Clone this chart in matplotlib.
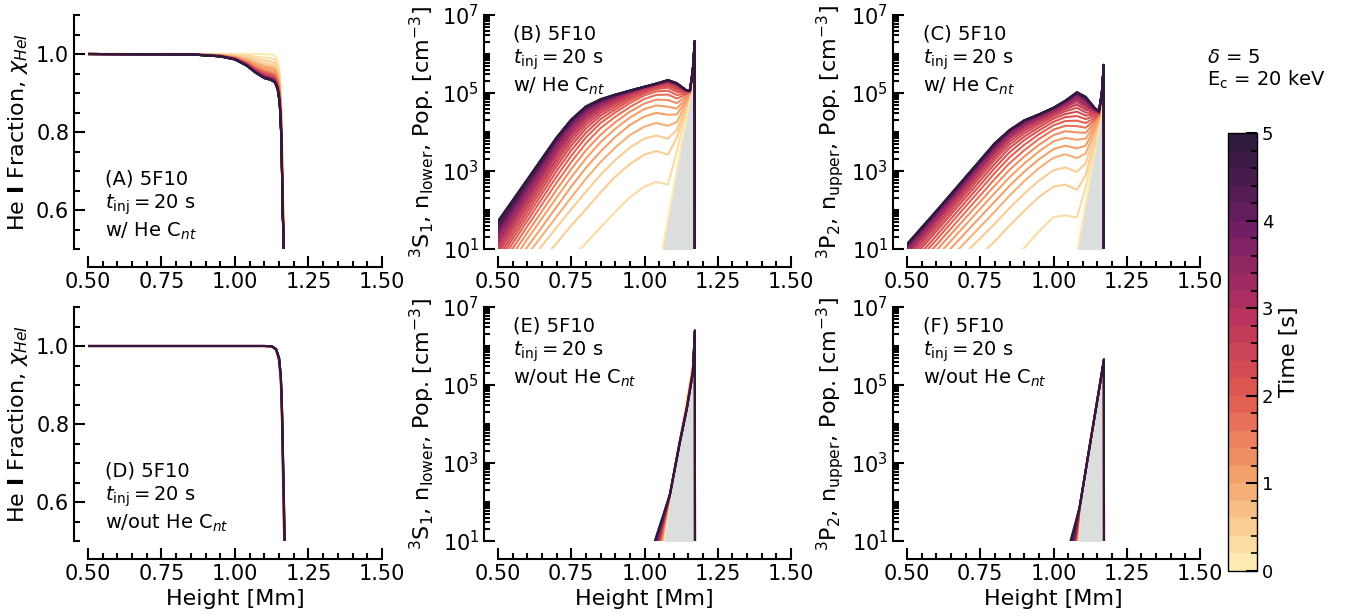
import numpy as np
import matplotlib
matplotlib.use('Agg')
import matplotlib.pyplot as plt
from matplotlib.colors import LinearSegmentedColormap, BoundaryNorm
from matplotlib.ticker import MultipleLocator, FormatStrFormatter, LogLocator, NullFormatter
import matplotlib.cm as cm

plt.rcParams['font.family'] = ['DejaVu Sans']
plt.rcParams['font.size'] = 14

# time of each curve [s]
times = [0.2, 0.4, 0.6, 0.8, 1.0, 1.2, 1.4, 1.6, 1.8, 2.0, 2.2, 2.4, 2.6,
         2.8, 3.0, 3.2, 3.4, 3.6, 3.8, 4.0, 4.2, 4.4, 4.6, 4.8, 5.0]
times_half = [0.5, 1.0, 1.5, 2.0, 2.5, 3.0, 3.5, 4.0, 4.5, 5.0]

# (A) He I fraction, w/ He Cnt  (first row t=0, then times)
a_height = [0.50, 0.85, 0.95, 1.00, 1.04, 1.07, 1.10, 1.12, 1.135, 1.145, 1.152, 1.158, 1.162, 1.168]
a_frac = [
    [1.0, 1.0, 1.0, 1.0, 1.0, 1.0, 1.0, 0.999, 0.996, 0.985, 0.955, 0.870, 0.700, 0.45],
    [1.0, 1.0, 0.999, 0.998, 0.996, 0.993, 0.991, 0.989, 0.986, 0.974, 0.943, 0.857, 0.685, 0.45],
    [1.0, 1.0, 0.998, 0.996, 0.992, 0.987, 0.983, 0.981, 0.977, 0.964, 0.933, 0.845, 0.672, 0.45],
    [1.0, 1.0, 0.998, 0.995, 0.988, 0.981, 0.976, 0.974, 0.969, 0.956, 0.924, 0.835, 0.661, 0.45],
    [1.0, 1.0, 0.997, 0.993, 0.986, 0.977, 0.970, 0.968, 0.963, 0.949, 0.917, 0.827, 0.652, 0.45],
    [1.0, 0.999, 0.997, 0.992, 0.983, 0.973, 0.965, 0.963, 0.958, 0.943, 0.910, 0.820, 0.644, 0.45],
    [1.0, 0.999, 0.996, 0.991, 0.981, 0.970, 0.961, 0.958, 0.953, 0.938, 0.905, 0.813, 0.637, 0.45],
    [1.0, 0.999, 0.996, 0.990, 0.979, 0.967, 0.957, 0.954, 0.949, 0.933, 0.900, 0.808, 0.631, 0.45],
    [1.0, 0.999, 0.996, 0.990, 0.978, 0.964, 0.954, 0.951, 0.946, 0.930, 0.896, 0.803, 0.626, 0.45],
    [1.0, 0.999, 0.995, 0.989, 0.977, 0.963, 0.952, 0.948, 0.943, 0.927, 0.893, 0.800, 0.622, 0.45],
    [1.0, 0.999, 0.995, 0.989, 0.976, 0.961, 0.949, 0.946, 0.941, 0.924, 0.890, 0.797, 0.619, 0.45],
    [1.0, 0.999, 0.995, 0.988, 0.975, 0.959, 0.948, 0.944, 0.939, 0.922, 0.887, 0.794, 0.616, 0.45],
    [1.0, 0.999, 0.995, 0.988, 0.974, 0.958, 0.946, 0.942, 0.937, 0.920, 0.885, 0.792, 0.613, 0.45],
    [1.0, 0.999, 0.995, 0.988, 0.973, 0.957, 0.945, 0.941, 0.935, 0.918, 0.884, 0.790, 0.611, 0.45],
    [1.0, 0.999, 0.995, 0.987, 0.973, 0.956, 0.944, 0.940, 0.934, 0.917, 0.882, 0.788, 0.609, 0.45],
    [1.0, 0.999, 0.994, 0.987, 0.972, 0.956, 0.943, 0.939, 0.933, 0.916, 0.881, 0.787, 0.608, 0.45],
    [1.0, 0.999, 0.994, 0.987, 0.972, 0.955, 0.942, 0.938, 0.932, 0.915, 0.880, 0.785, 0.606, 0.45],
    [1.0, 0.999, 0.994, 0.987, 0.972, 0.954, 0.941, 0.937, 0.931, 0.914, 0.879, 0.784, 0.605, 0.45],
    [1.0, 0.999, 0.994, 0.987, 0.971, 0.954, 0.940, 0.937, 0.931, 0.913, 0.878, 0.784, 0.604, 0.45],
    [1.0, 0.999, 0.994, 0.986, 0.971, 0.954, 0.940, 0.936, 0.930, 0.912, 0.878, 0.783, 0.603, 0.45],
    [1.0, 0.999, 0.994, 0.986, 0.971, 0.953, 0.939, 0.936, 0.930, 0.912, 0.877, 0.782, 0.602, 0.45],
    [1.0, 0.999, 0.994, 0.986, 0.971, 0.953, 0.939, 0.935, 0.929, 0.911, 0.876, 0.782, 0.602, 0.45],
    [1.0, 0.999, 0.994, 0.986, 0.970, 0.953, 0.939, 0.935, 0.929, 0.911, 0.876, 0.781, 0.601, 0.45],
    [1.0, 0.999, 0.994, 0.986, 0.970, 0.952, 0.938, 0.934, 0.928, 0.910, 0.875, 0.781, 0.601, 0.45],
    [1.0, 0.999, 0.994, 0.986, 0.970, 0.952, 0.938, 0.934, 0.928, 0.910, 0.875, 0.780, 0.600, 0.45],
    [1.0, 0.999, 0.994, 0.986, 0.970, 0.952, 0.938, 0.934, 0.928, 0.910, 0.875, 0.780, 0.600, 0.45],
]

# (B) 3S1 population, log10 [cm-3]
b_height0 = [1.04, 1.061, 1.158, 1.166]
b_logpop0 = [0.12, 1.0, 5.0, 5.25]
b_height = [0.50, 0.60, 0.70, 0.75, 0.80, 0.85, 0.90, 0.95, 1.00, 1.04, 1.08, 1.11, 1.14, 1.155, 1.165, 1.1715, 1.172]
b_logpop = [
    [-1.2, -0.45, 0.35, 0.75, 1.15, 1.55, 1.95, 2.33, 2.6, 2.72, 2.65, 3.5, 4.45, 4.95, 5.6, 6.3, -2],
    [-0.6, 0.28, 1.15, 1.6, 2.02, 2.45, 2.85, 3.18, 3.42, 3.51, 3.42, 3.85, 4.55, 4.97, 5.6, 6.3, -2],
    [-0.33, 0.62, 1.55, 2.02, 2.47, 2.9, 3.28, 3.6, 3.83, 3.91, 3.83, 4.05, 4.62, 4.98, 5.6, 6.3, -2],
    [-0.15, 0.85, 1.83, 2.32, 2.8, 3.23, 3.6, 3.92, 4.14, 4.23, 4.16, 4.25, 4.7, 4.99, 5.6, 6.31, -2],
    [0.0, 1.05, 2.08, 2.6, 3.08, 3.5, 3.87, 4.18, 4.4, 4.49, 4.44, 4.45, 4.78, 5.0, 5.6, 6.31, -2],
    [0.15, 1.25, 2.32, 2.84, 3.32, 3.74, 4.08, 4.37, 4.59, 4.68, 4.65, 4.6, 4.84, 5.0, 5.6, 6.31, -2],
    [0.3, 1.42, 2.52, 3.05, 3.53, 3.93, 4.25, 4.52, 4.73, 4.83, 4.82, 4.74, 4.9, 5.01, 5.6, 6.32, -2],
    [0.44, 1.58, 2.7, 3.23, 3.71, 4.1, 4.39, 4.64, 4.85, 4.95, 4.96, 4.86, 4.95, 5.02, 5.6, 6.32, -2],
    [0.57, 1.72, 2.86, 3.39, 3.86, 4.23, 4.5, 4.74, 4.94, 5.04, 5.06, 4.95, 4.98, 5.02, 5.6, 6.32, -2],
    [0.68, 1.84, 3.0, 3.53, 3.98, 4.33, 4.58, 4.81, 5.0, 5.1, 5.14, 5.03, 5.0, 5.03, 5.6, 6.32, -2],
    [0.78, 1.95, 3.12, 3.65, 4.09, 4.42, 4.65, 4.87, 5.04, 5.14, 5.19, 5.09, 5.02, 5.03, 5.6, 6.33, -2],
    [0.88, 2.05, 3.22, 3.75, 4.18, 4.49, 4.71, 4.91, 5.08, 5.17, 5.23, 5.13, 5.04, 5.04, 5.6, 6.33, -2],
    [0.97, 2.14, 3.31, 3.84, 4.26, 4.55, 4.76, 4.95, 5.1, 5.19, 5.26, 5.16, 5.05, 5.04, 5.6, 6.33, -2],
    [1.06, 2.23, 3.4, 3.92, 4.33, 4.6, 4.8, 4.98, 5.12, 5.2, 5.28, 5.19, 5.06, 5.04, 5.6, 6.33, -2],
    [1.14, 2.31, 3.48, 3.99, 4.39, 4.65, 4.84, 5.0, 5.13, 5.21, 5.29, 5.21, 5.07, 5.05, 5.6, 6.33, -2],
    [1.22, 2.39, 3.55, 4.06, 4.44, 4.69, 4.87, 5.02, 5.14, 5.22, 5.3, 5.22, 5.07, 5.05, 5.6, 6.33, -2],
    [1.3, 2.46, 3.62, 4.12, 4.49, 4.72, 4.89, 5.03, 5.15, 5.22, 5.31, 5.23, 5.08, 5.05, 5.6, 6.33, -2],
    [1.37, 2.53, 3.68, 4.17, 4.53, 4.75, 4.91, 5.04, 5.15, 5.23, 5.31, 5.24, 5.08, 5.05, 5.6, 6.33, -2],
    [1.44, 2.59, 3.73, 4.21, 4.56, 4.77, 4.92, 5.05, 5.16, 5.23, 5.32, 5.24, 5.08, 5.05, 5.6, 6.33, -2],
    [1.5, 2.64, 3.77, 4.24, 4.59, 4.79, 4.93, 5.05, 5.16, 5.23, 5.32, 5.25, 5.08, 5.05, 5.6, 6.33, -2],
    [1.56, 2.68, 3.8, 4.27, 4.61, 4.81, 4.94, 5.06, 5.16, 5.24, 5.32, 5.25, 5.08, 5.05, 5.6, 6.33, -2],
    [1.61, 2.72, 3.83, 4.29, 4.63, 4.82, 4.95, 5.06, 5.16, 5.24, 5.33, 5.25, 5.08, 5.05, 5.6, 6.33, -2],
    [1.65, 2.75, 3.85, 4.31, 4.64, 4.83, 4.95, 5.06, 5.16, 5.24, 5.33, 5.25, 5.08, 5.05, 5.6, 6.33, -2],
    [1.69, 2.77, 3.86, 4.32, 4.65, 4.84, 4.96, 5.06, 5.16, 5.24, 5.33, 5.25, 5.08, 5.05, 5.6, 6.33, -2],
    [1.72, 2.79, 3.86, 4.32, 4.66, 4.84, 4.96, 5.06, 5.16, 5.24, 5.33, 5.25, 5.08, 5.05, 5.6, 6.33, -2],
]

# (C) 3P2 population, log10 [cm-3]
c_height0 = [1.06, 1.082, 1.163, 1.167]
c_logpop0 = [0.06, 1.0, 4.45, 4.62]
c_height = [0.50, 0.60, 0.70, 0.80, 0.85, 0.90, 0.95, 1.00, 1.04, 1.08, 1.11, 1.14, 1.155, 1.165, 1.1715, 1.172]
c_logpop = [
    [-1.8, -1.1, -0.4, 0.3, 0.67, 1.03, 1.45, 1.82, 1.86, 1.81, 2.6, 3.6, 4.2, 5.0, 5.7, -2],
    [-0.9, -0.2, 0.5, 1.2, 1.6, 1.98, 2.33, 2.6, 2.65, 2.52, 2.9, 3.75, 4.25, 5.0, 5.7, -2],
    [-0.6, 0.15, 0.9, 1.65, 2.05, 2.42, 2.75, 3.02, 3.09, 2.98, 3.2, 3.9, 4.3, 5.0, 5.7, -2],
    [-0.35, 0.4, 1.18, 1.96, 2.37, 2.74, 3.07, 3.34, 3.43, 3.33, 3.45, 4.0, 4.33, 5.0, 5.7, -2],
    [-0.15, 0.62, 1.42, 2.22, 2.62, 2.98, 3.3, 3.56, 3.65, 3.58, 3.65, 4.1, 4.36, 5.0, 5.7, -2],
    [0.0, 0.8, 1.62, 2.44, 2.84, 3.19, 3.5, 3.76, 3.85, 3.8, 3.83, 4.18, 4.39, 5.0, 5.7, -2],
    [0.15, 0.96, 1.8, 2.63, 3.03, 3.37, 3.67, 3.92, 4.02, 3.99, 3.98, 4.25, 4.41, 5.0, 5.7, -2],
    [0.28, 1.1, 1.95, 2.8, 3.2, 3.53, 3.82, 4.06, 4.16, 4.15, 4.11, 4.31, 4.43, 5.0, 5.71, -2],
    [0.4, 1.23, 2.09, 2.95, 3.35, 3.67, 3.94, 4.17, 4.28, 4.29, 4.23, 4.36, 4.45, 5.0, 5.71, -2],
    [0.5, 1.34, 2.21, 3.08, 3.48, 3.79, 4.04, 4.26, 4.38, 4.41, 4.33, 4.41, 4.46, 5.0, 5.71, -2],
    [0.6, 1.45, 2.32, 3.19, 3.59, 3.88, 4.12, 4.34, 4.46, 4.52, 4.42, 4.45, 4.47, 5.0, 5.71, -2],
    [0.68, 1.53, 2.41, 3.29, 3.68, 3.96, 4.19, 4.4, 4.53, 4.62, 4.5, 4.48, 4.48, 5.0, 5.71, -2],
    [0.76, 1.61, 2.49, 3.37, 3.76, 4.03, 4.25, 4.45, 4.59, 4.7, 4.57, 4.51, 4.49, 5.0, 5.72, -2],
    [0.83, 1.68, 2.56, 3.44, 3.83, 4.09, 4.3, 4.49, 4.64, 4.77, 4.63, 4.53, 4.5, 5.0, 5.72, -2],
    [0.89, 1.74, 2.62, 3.5, 3.88, 4.14, 4.34, 4.52, 4.68, 4.83, 4.68, 4.55, 4.5, 5.0, 5.72, -2],
    [0.94, 1.79, 2.67, 3.55, 3.93, 4.18, 4.37, 4.55, 4.71, 4.88, 4.73, 4.57, 4.51, 5.0, 5.72, -2],
    [0.98, 1.83, 2.71, 3.59, 3.96, 4.21, 4.4, 4.57, 4.74, 4.92, 4.77, 4.58, 4.51, 5.0, 5.72, -2],
    [1.02, 1.87, 2.74, 3.62, 3.99, 4.23, 4.42, 4.59, 4.76, 4.95, 4.8, 4.59, 4.52, 5.0, 5.72, -2],
    [1.05, 1.9, 2.77, 3.65, 4.01, 4.25, 4.43, 4.6, 4.77, 4.97, 4.83, 4.6, 4.52, 5.0, 5.72, -2],
    [1.07, 1.92, 2.79, 3.67, 4.02, 4.27, 4.44, 4.61, 4.78, 4.99, 4.85, 4.61, 4.53, 5.0, 5.72, -2],
    [1.09, 1.94, 2.81, 3.68, 4.03, 4.28, 4.44, 4.61, 4.79, 5.0, 4.87, 4.61, 4.53, 5.0, 5.72, -2],
    [1.1, 1.95, 2.82, 3.69, 4.04, 4.29, 4.45, 4.62, 4.79, 5.01, 4.88, 4.62, 4.53, 5.0, 5.72, -2],
    [1.11, 1.96, 2.83, 3.7, 4.05, 4.29, 4.45, 4.62, 4.8, 5.01, 4.89, 4.62, 4.53, 5.0, 5.72, -2],
    [1.12, 1.97, 2.84, 3.71, 4.05, 4.3, 4.45, 4.62, 4.8, 5.02, 4.9, 4.62, 4.53, 5.0, 5.72, -2],
    [1.13, 1.98, 2.85, 3.72, 4.05, 4.3, 4.45, 4.62, 4.8, 5.02, 4.9, 4.62, 4.53, 5.0, 5.72, -2],
]

# (D) He I fraction, w/out He Cnt  (t = 0, 0.5, ... 5)
d_height = [0.50, 1.10, 1.125, 1.14, 1.15, 1.156, 1.16, 1.164, 1.168, 1.17]
d_frac = [
    [1.0, 1.0, 0.999, 0.988, 0.958, 0.898, 0.78, 0.60, 0.45, 0.45],
    [1.0, 1.0, 0.999, 0.989, 0.960, 0.902, 0.79, 0.61, 0.46, 0.45],
    [1.0, 1.0, 0.999, 0.989, 0.961, 0.905, 0.80, 0.62, 0.47, 0.45],
    [1.0, 1.0, 0.999, 0.990, 0.963, 0.908, 0.806, 0.635, 0.48, 0.45],
    [1.0, 1.0, 0.9992, 0.990, 0.964, 0.911, 0.812, 0.645, 0.49, 0.45],
    [1.0, 1.0, 0.9993, 0.991, 0.965, 0.914, 0.818, 0.655, 0.50, 0.45],
    [1.0, 1.0, 0.9993, 0.991, 0.966, 0.917, 0.824, 0.665, 0.51, 0.45],
    [1.0, 1.0, 0.9994, 0.991, 0.967, 0.919, 0.829, 0.675, 0.52, 0.45],
    [1.0, 1.0, 0.9994, 0.992, 0.968, 0.921, 0.833, 0.685, 0.53, 0.45],
    [1.0, 1.0, 0.9995, 0.992, 0.969, 0.923, 0.837, 0.693, 0.54, 0.45],
    [1.0, 1.0, 0.9995, 0.992, 0.970, 0.925, 0.84, 0.70, 0.55, 0.45],
]

# (E) 3S1 population, w/out He Cnt
e_height0 = [1.05, 1.066, 1.087, 1.12, 1.162, 1.167]
e_logpop0 = [0.25, 1.0, 2.2, 3.55, 5.45, 5.65]
e_height = [1.02, 1.05, 1.087, 1.12, 1.145, 1.165, 1.172, 1.1725]
e_logpop = [
    [-1.0, 0.42, 2.2, 3.56, 4.5, 5.45, 6.3, -2],
    [-0.6, 0.6, 2.2, 3.55, 4.48, 5.42, 6.32, -2],
    [-0.3, 0.75, 2.2, 3.54, 4.47, 5.4, 6.34, -2],
    [-0.05, 0.88, 2.2, 3.53, 4.46, 5.38, 6.35, -2],
    [0.12, 1.0, 2.2, 3.52, 4.45, 5.36, 6.36, -2],
    [0.25, 1.1, 2.2, 3.52, 4.44, 5.34, 6.37, -2],
    [0.36, 1.18, 2.2, 3.51, 4.43, 5.33, 6.38, -2],
    [0.46, 1.24, 2.2, 3.51, 4.42, 5.32, 6.39, -2],
    [0.56, 1.3, 2.2, 3.5, 4.41, 5.31, 6.4, -2],
    [0.65, 1.35, 2.2, 3.5, 4.4, 5.3, 6.4, -2],
]

# (F) 3P2 population, w/out He Cnt
f_height0 = [1.075, 1.084, 1.092, 1.12, 1.16, 1.166]
f_logpop0 = [0.2, 1.0, 1.98, 3.3, 5.05, 5.3]
f_height = [1.04, 1.07, 1.09, 1.12, 1.145, 1.164, 1.172, 1.1725]
f_logpop = [
    [-1.5, 0.0, 1.9, 3.3, 4.43, 5.3, 5.6, -2],
    [-1.2, 0.2, 1.9, 3.3, 4.42, 5.29, 5.61, -2],
    [-0.9, 0.4, 1.9, 3.29, 4.42, 5.29, 5.62, -2],
    [-0.6, 0.55, 1.9, 3.29, 4.41, 5.28, 5.63, -2],
    [-0.35, 0.7, 1.9, 3.28, 4.41, 5.28, 5.64, -2],
    [-0.1, 0.85, 1.9, 3.28, 4.41, 5.27, 5.64, -2],
    [0.1, 0.98, 1.9, 3.27, 4.4, 5.27, 5.65, -2],
    [0.25, 1.1, 1.9, 3.27, 4.4, 5.26, 5.65, -2],
    [0.38, 1.23, 1.9, 3.26, 4.4, 5.26, 5.66, -2],
    [0.5, 1.34, 1.9, 3.26, 4.4, 5.26, 5.66, -2],
]

cmap = LinearSegmentedColormap.from_list(
    'matter', ['#fdebb2', '#f4a36b', '#e0584f', '#b5305f', '#6e1d64', '#2d1a3c'], N=25)
norm = BoundaryNorm(np.linspace(0, 5, 26), 25)
grey = '#dcdddd'
lw = 1.5

W, H = 1354.0, 616.0
def px_axes(x0, x1, ytop, ybot):
    return fig.add_axes([x0 / W, 1 - ybot / H, (x1 - x0) / W, (ybot - ytop) / H])

fig = plt.figure(figsize=(13.54, 6.16), dpi=100)
axA = px_axes(88, 382, 15, 249)
axB = px_axes(498, 791, 15, 249)
axC = px_axes(907, 1200, 15, 249)
axD = px_axes(88, 382, 307, 541)
axE = px_axes(498, 791, 307, 541)
axF = px_axes(907, 1200, 307, 541)
cax = px_axes(1228, 1257, 133, 571)


def style(ax, logy):
    for s in ['top', 'right']:
        ax.spines[s].set_visible(False)
    ax.spines['left'].set_position(('outward', 10))
    ax.spines['bottom'].set_position(('outward', 13))
    for s in ['left', 'bottom']:
        ax.spines[s].set_linewidth(1.5)
    ax.set_xlim(0.5, 1.5)
    ax.xaxis.set_major_locator(MultipleLocator(0.25))
    ax.xaxis.set_minor_locator(MultipleLocator(0.05))
    ax.xaxis.set_major_formatter(FormatStrFormatter('%.2f'))
    if logy:
        ax.set_yscale('log')
        ax.set_ylim(1e1, 1e7)
        ax.set_yticks([1e1, 1e3, 1e5, 1e7])
        ax.yaxis.set_minor_locator(LogLocator(base=10, subs=np.arange(1, 10), numticks=20))
        ax.yaxis.set_minor_formatter(NullFormatter())
    else:
        ax.set_ylim(0.5, 1.1)
        ax.yaxis.set_major_locator(MultipleLocator(0.2))
        ax.yaxis.set_minor_locator(MultipleLocator(0.05))
        ax.yaxis.set_major_formatter(FormatStrFormatter('%.1f'))
    ax.tick_params(which='major', direction='in', length=8, width=1.5, labelsize=15)
    ax.tick_params(which='minor', direction='in', length=4, width=1.5)


def panel_text(ax, letter, cnt, x, y, va):
    ax.text(x, y, '(%s) 5F10\n$t_{\\rm inj} = 20$ s\n%s He C$_{nt}$' % (letter, cnt),
            transform=ax.transAxes, fontsize=14, va=va, ha='left', linespacing=1.25)


# He I fraction panels
axA.plot(a_height, a_frac[0], color=cmap(norm(0.0)), lw=lw)
for t, row in zip(times, a_frac[1:]):
    axA.plot(a_height, row, color=cmap(norm(t)), lw=lw)
axD.plot(d_height, d_frac[0], color=cmap(norm(0.0)), lw=lw)
for t, row in zip(times_half, d_frac[1:]):
    axD.plot(d_height, row, color=cmap(norm(t)), lw=lw)

# population panels, grey = initial (t=0) profile
for ax, h0, p0, h, rows, ts in [(axB, b_height0, b_logpop0, b_height, b_logpop, times),
                                (axC, c_height0, c_logpop0, c_height, c_logpop, times),
                                (axE, e_height0, e_logpop0, e_height, e_logpop, times_half),
                                (axF, f_height0, f_logpop0, f_height, f_logpop, times_half)]:
    pop0 = 10.0 ** np.array(p0)
    ax.fill_between(h0, pop0, 1e-3, color=grey, lw=0, zorder=1)
    ax.plot(h0, pop0, color=cmap(norm(0.0)), lw=lw, zorder=2)
    for t, row in zip(ts, rows):
        ax.plot(h, 10.0 ** np.array(row), color=cmap(norm(t)), lw=lw, zorder=3)

for ax in [axA, axD]:
    style(ax, False)
    ax.set_ylabel(r'He $\mathbf{I}$ Fraction, $\chi_{HeI}$', fontsize=16)
for ax in [axB, axE]:
    style(ax, True)
    ax.set_ylabel(r'$^{3}$S$_{1}$, n$_{\rm lower}$, Pop. [cm$^{-3}$]', fontsize=16)
for ax in [axC, axF]:
    style(ax, True)
    ax.set_ylabel(r'$^{3}$P$_{2}$, n$_{\rm upper}$, Pop. [cm$^{-3}$]', fontsize=16)
for ax in [axD, axE, axF]:
    ax.set_xlabel('Height [Mm]', fontsize=16)

panel_text(axA, 'A', 'w/', 0.058, 0.03, 'bottom')
panel_text(axD, 'D', 'w/out', 0.058, 0.03, 'bottom')
panel_text(axB, 'B', 'w/', 0.051, 0.96, 'top')
panel_text(axC, 'C', 'w/', 0.055, 0.96, 'top')
panel_text(axE, 'E', 'w/out', 0.051, 0.96, 'top')
panel_text(axF, 'F', 'w/out', 0.055, 0.96, 'top')

sm = cm.ScalarMappable(cmap=cmap, norm=norm)
cb = fig.colorbar(sm, cax=cax, ticks=[0, 1, 2, 3, 4, 5])
cb.outline.set_linewidth(1.0)
cax.yaxis.set_minor_locator(MultipleLocator(0.2))
cax.tick_params(which='major', direction='in', length=8, width=1.5, labelsize=13)
cax.tick_params(which='minor', direction='in', length=4, width=1.2)
cb.set_label('Time [s]', fontsize=16)

fig.text(1207 / W, 1 - 63 / H, r'$\delta$ = 5', fontsize=14)
fig.text(1207 / W, 1 - 86 / H, r'E$_{\rm c}$ = 20 keV', fontsize=14)

fig.savefig('out.png', dpi=100)
